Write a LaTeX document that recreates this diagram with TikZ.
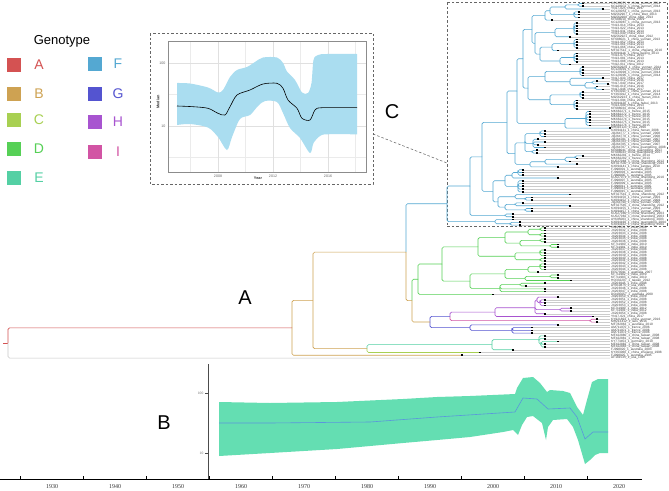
\documentclass[tikz,border=0pt]{standalone}
\usepackage{fontspec}
\setmainfont{Liberation Sans}
\newfontfamily\axfont{Liberation Serif}
\definecolor{cA}{RGB}{212,82,82}
\definecolor{cB}{RGB}{206,162,82}
\definecolor{cC}{RGB}{168,208,82}
\definecolor{cD}{RGB}{86,208,86}
\definecolor{cE}{RGB}{84,208,164}
\definecolor{cF}{RGB}{84,168,210}
\definecolor{cG}{RGB}{84,84,208}
\definecolor{cH}{RGB}{168,84,208}
\definecolor{cI}{RGB}{210,84,164}
\definecolor{ribF}{RGB}{170,221,240}
\definecolor{ribB}{RGB}{100,222,178}
\definecolor{medB}{RGB}{90,150,220}
\newcommand\trnode[5]{\coordinate (#1) at (#2,#3);\foreach \cc in {#4}{\draw[brn=#5] (#1) |- (\cc);}}
\def\leafdata{0/583/KC129071\_1\_china\_yunnan\_2014,1/583/KC129072\_1\_china\_yunnan\_2014,2/603/YN17-025\_china\_2017,3/579/KC129053\_1\_china\_yunnan\_2013,4/579/MG562907\_1\_china\_tibet\_2013,5/579/MG562908\_china\_tibet\_2013,6/552/KF688010\_china\_2009,7/577/KC129087\_1\_china\_yunnan\_2013,8/577/YN13-014\_china\_2013,9/577/YN13-022\_china\_2013,10/577/YN13-031\_china\_2013,11/577/YN13-040\_china\_2013,12/570/MG562921\_china\_tibet\_2012,13/577/KF688021\_1\_china\_yunnan\_2013,14/577/YN13-052\_china\_2013,15/577/YN13-061\_china\_2013,16/577/YN13-066\_china\_2013,17/558/MF327512\_1\_china\_zhejiang\_2010,18/577/KX094116\_1\_china\_beijing\_2013,19/577/YN13-075\_china\_2013,20/577/YN13-081\_china\_2013,21/577/YN13-088\_china\_2013,22/570/YN12-011\_china\_2012,23/583/MG562929\_1\_china\_yunnan\_2014,24/583/KC129091\_1\_china\_yunnan\_2014,25/583/KC129093\_1\_china\_yunnan\_2014,26/583/KC129095\_1\_china\_yunnan\_2014,27/603/YN17-033\_china\_2017,28/597/YN16-012\_china\_2016,29/608/YN17-040\_china\_2017,30/597/YN16-019\_china\_2016,31/603/YN17-046\_china\_2017,32/583/KY363011\_1\_china\_yunnan\_2014,33/583/KY363012\_1\_china\_yunnan\_2014,34/583/MG562933\_1\_china\_hunan\_2014,35/577/YN13-094\_china\_2013,36/577/KX094120\_1\_china\_hubei\_2013,37/577/YN13-099\_china\_2013,38/577/KF688034\_china\_2013,39/590/MK662271\_1\_france\_2015,40/590/MK662272\_1\_france\_2015,41/590/MK662273\_1\_france\_2015,42/590/MK662274\_1\_france\_2015,43/590/MK662275\_1\_france\_2015,44/590/MK662276\_1\_france\_2015,45/610/MH316121\_1\_usa\_2016,46/545/KX094131\_1\_china\_henan\_2008,47/545/JQ264777\_1\_china\_yunnan\_2008,48/545/JQ264779\_1\_china\_yunnan\_2008,49/538/JQ264781\_1\_china\_yunnan\_2007,50/545/JQ264783\_1\_china\_yunnan\_2008,51/538/JQ264785\_1\_china\_yunnan\_2007,52/545/JQ264787\_1\_china\_guangdong\_2008,53/537/KF688041\_china\_guangdong\_2007,54/537/KF688043\_china\_guangdong\_2007,55/583/MK662281\_1\_france\_2014,56/577/MK662282\_1\_france\_2013,57/570/KU527068\_1\_china\_shandong\_2012,58/577/MF327530\_1\_china\_shandong\_2013,59/558/KX094141\_1\_china\_jiangsu\_2010,60/523/FJ998001\_1\_australia\_2005,61/523/FJ998003\_1\_australia\_2005,62/523/FJ998005\_1\_australia\_2005,63/558/KU527071\_1\_china\_shandong\_2010,64/523/FJ998007\_1\_australia\_2005,65/523/FJ998009\_1\_australia\_2005,66/523/FJ998011\_1\_australia\_2005,67/523/FJ998013\_1\_australia\_2005,68/523/FJ998015\_1\_australia\_2005,69/570/MF327541\_1\_china\_shandong\_2012,70/532/KX094150\_1\_china\_yunnan\_2006,71/532/KX094152\_1\_china\_yunnan\_2006,72/523/JQ264790\_1\_china\_yunnan\_2005,73/570/MF327545\_1\_china\_shandong\_2012,74/532/KX094155\_1\_china\_yunnan\_2006,75/532/KX094157\_1\_china\_yunnan\_2006,76/513/KU527080\_1\_china\_shandong\_2003,77/513/KU527082\_1\_china\_shandong\_2003,78/513/AY695083\_1\_china\_shandong\_2003,79/520/KX094160\_1\_china\_guangdong\_2004,80/520/KX094162\_1\_china\_shandong\_2004,81/545/JX203031\_1\_india\_2008,82/545/JX203032\_1\_india\_2008,83/545/JX203033\_1\_india\_2008,84/545/JX203034\_1\_india\_2008,85/545/JX203035\_1\_india\_2008,86/545/JX203036\_1\_india\_2008,87/558/KF711980\_1\_india\_2010,88/558/KF711981\_1\_india\_2010,89/545/JX203037\_1\_india\_2008,90/545/JX203038\_1\_india\_2008,91/545/JX203039\_1\_india\_2008,92/545/JX203040\_1\_india\_2008,93/545/JX203041\_1\_india\_2008,94/545/JX203042\_1\_india\_2008,95/545/JX203043\_1\_india\_2008,96/545/JX203044\_1\_india\_2008,97/538/EF573591\_1\_australia\_2007,98/558/KF711982\_1\_india\_2010,99/558/KF711983\_1\_india\_2010,100/571/HQ332207\_1\_taiwan\_2012,101/545/JX203045\_1\_india\_2008,102/526/AY910875\_1\_usa\_2005,103/545/JX203046\_1\_india\_2008,104/545/JX203047\_1\_india\_2008,105/493/DQ435657\_1\_australia\_2000,106/558/JX203050\_1\_india\_2010,107/545/JX203051\_1\_india\_2008,108/545/JX203052\_1\_india\_2008,109/545/JX203053\_1\_india\_2008,110/571/KF711990\_1\_india\_2012,111/571/KF711991\_1\_india\_2012,112/545/JX203054\_1\_india\_2008,113/593/YN17-021\_china\_2017,114/597/KY921693\_1\_china\_yunnan\_2016,115/597/MH213412\_1\_laos\_2016,116/558/MF782863\_1\_australia\_2010,117/532/AM711970\_1\_france\_2006,118/532/AM711971\_1\_france\_2006,119/532/AM711972\_1\_france\_2006,120/545/MF422880\_1\_china\_taiwan\_2008,121/545/MF422881\_1\_china\_taiwan\_2008,122/558/KY773453\_1\_germany\_2010,123/545/MF422882\_1\_china\_taiwan\_2008,124/545/MF422883\_1\_china\_taiwan\_2008,125/513/FJ998020\_1\_australia\_2003,126/480/KY363060\_1\_china\_zhejiang\_1998,127/462/FJ998025\_1\_australia\_1995}
\begin{document}
\begin{tikzpicture}[x=1pt,y=-1pt,
  brn/.style={draw=#1, line width=0.6pt, rounded corners=1.5pt},
  tipl/.style={draw=black!20, line width=0.35pt},
  leaflab/.style={anchor=west, inner sep=0pt, font=\fontsize{3.2}{3.3}\selectfont, text=black!75},
  tipdot/.style={fill=black, rectangle, inner sep=0pt, minimum size=1.7pt},
  biglab/.style={font=\fontsize{20}{20}\selectfont, text=black},
  glab/.style={font=\fontsize{14}{14}\selectfont},
  tiny/.style={font=\fontsize{3.6}{4}\selectfont, text=black!60, inner sep=0.5pt},
  dbox/.style={draw=black!60, dashed, dash pattern=on 2.5pt off 2pt, line width=0.55pt},
  grd/.style={draw=black!8, line width=0.4pt}]
\useasboundingbox (0,0) rectangle (669,490);
\fill[white] (0,0) rectangle (669,490);

% ---------------- legend
\node[font=\fontsize{13}{13}\selectfont] (gtitle) at (62,41) {Genotype};
\foreach \gl/\gy/\gc in {A/65/cA,B/94/cB,C/120/cC,D/149/cD,E/178/cE}{
  \fill[\gc] (7,\gy-7) rectangle (21,\gy+7);
  \node[glab,text=\gc] at (39,\gy) {\gl};}
\foreach \gl/\gy/\gc in {F/64/cF,G/94/cG,H/122/cH,I/152/cI}{
  \fill[\gc] (88,\gy-7) rectangle (102,\gy+7);
  \node[glab,text=\gc] at (118,\gy) {\gl};}

% ---------------- inset plot (C)
\draw[dbox] (150,33) rectangle (373,184);
\foreach \gy in {94.5,157.5}{\draw[grd] (168,\gy) -- (366,\gy);}
\foreach \gx in {190.5,245.5,300.5,355.5}{\draw[grd] (\gx,41) -- (\gx,172);}
\foreach \gy in {63,126}{\draw[draw=black!12,line width=0.5pt] (168,\gy) -- (366,\gy);}
\foreach \gx in {218,273,328}{\draw[draw=black!12,line width=0.5pt] (\gx,41) -- (\gx,172);}
\fill[ribF] plot[smooth,tension=0.5] coordinates {(177,83) (190,83.5) (208,87.5) (218,92.5) (223,90) (230,77) (237,70) (247,67) (255,62) (263,57.5) (277,57.5) (283,63) (287,71.5) (295,80) (302,92.5) (308,93) (311.5,83) (313.5,60) (318,55) (327,54) (357,54)}
  -- plot[smooth,tension=0.5] coordinates {(357,134.3) (327,134.3) (320,136) (313.5,143) (310,153) (300,138) (290,128) (283,113) (277,102) (265,101) (258,106) (250,115) (240,119) (232,137) (227,150) (218,137) (208,127.5) (190,124) (177,125)} -- cycle;
\draw[black, line width=0.6pt] plot[smooth,tension=0.5] coordinates {(177,106) (193,106.7) (208,108.3) (218,113.3) (225,115) (230,106.7) (237,95) (250,90) (263,84) (277,83.3) (283,88.3) (288,100) (297,108.3) (302,118.3) (310,120) (315,110) (322,107.7) (357,107.7)};
\draw[black!45, line width=0.5pt] (168,41) rectangle (366,172);
\node[tiny,anchor=east] at (166,63) {100};
\node[tiny,anchor=east] at (166,126) {10};
\foreach \gx/\gt in {218/2008,273/2012,328/2016}{\node[tiny] at (\gx,176) {\gt};}
\node[tiny,font=\fontsize{3.8}{4}\selectfont\bfseries,text=black!80] at (258,178.5) {Year};
\node[tiny,font=\fontsize{3.8}{4}\selectfont\bfseries,text=black!80,rotate=90] at (158,102) {Median};
\node[biglab] (labC) at (392,112) {C};
\coordinate (insetR) at (373,134);
\coordinate (boxL) at (447,163);
\draw[dbox] (insetR) -- (boxL);

% ---------------- tree
\draw[dbox] (447,2) rectangle (667,226.6);
\begin{scope}[shift={(0,3.5)}, y=-2.77pt]
\foreach \ii/\tp/\lab in \leafdata {
  \coordinate (l\ii) at (\tp,\ii);
  \draw[tipl] (\tp,\ii) -- (610,\ii);
  \node[leaflab] at (611,\ii) {\lab};}
\coordinate (l128) at (610,128);
\node[leaflab] at (611,128) {AF181535\_1\_usa\_1997};
% genotype F
\trnode{fa1}{578}{0.5}{l0,l1}{cF}
\trnode{fa2}{565}{1.25}{fa1,l2}{cF}
\trnode{fa3}{574}{4}{l3,l4,l5}{cF}
\trnode{fa4}{550}{2.625}{fa2,fa3}{cF}
\trnode{fa5}{545}{4.31}{fa4,l6}{cF}
\trnode{fb1}{574}{9}{l7,l8,l9,l10,l11}{cF}
\trnode{fb2}{555}{10.5}{fb1,l12}{cF}
\trnode{fc1}{574}{14.5}{l13,l14,l15,l16}{cF}
\trnode{fc2}{552}{15.75}{fc1,l17}{cF}
\trnode{fd1}{574}{19.5}{l18,l19,l20,l21}{cF}
\trnode{fd2}{560}{20.75}{fd1,l22}{cF}
\trnode{fcd}{540}{18.25}{fc2,fd2}{cF}
\trnode{fbcd}{535}{14.375}{fb2,fcd}{cF}
\trnode{fTa}{532}{9.34}{fa5,fbcd}{cF}
\trnode{fe1}{580}{24.5}{l23,l24,l25,l26}{cF}
\trnode{ff1}{592}{28.5}{l28,l29}{cF}
\trnode{ff2}{595}{30.5}{l30,l31}{cF}
\trnode{ff3}{585}{29.5}{ff1,ff2}{cF}
\trnode{ff4}{570}{28.25}{l27,ff3}{cF}
\trnode{fef}{545}{26.375}{fe1,ff4}{cF}
\trnode{fg1}{580}{33}{l32,l33,l34}{cF}
\trnode{fg2}{574}{36.5}{l35,l36,l37,l38}{cF}
\trnode{fg3}{550}{34.75}{fg1,fg2}{cF}
\trnode{fefg}{528}{30.56}{fef,fg3}{cF}
\trnode{fTb}{523}{19.95}{fTa,fefg}{cF}
\trnode{fh1}{586}{41.5}{l39,l40,l41,l42,l43,l44}{cF}
\trnode{fh2}{565}{43.25}{fh1,l45}{cF}
\trnode{fTc}{517}{31.6}{fTb,fh2}{cF}
\trnode{fi1}{540}{47}{l46,l47,l48}{cF}
\trnode{fi2}{533}{50.5}{l49,l50,l51,l52}{cF}
\trnode{fi3}{532}{53.5}{l53,l54}{cF}
\trnode{fi4}{525}{50.33}{fi1,fi2,fi3}{cF}
\trnode{fj1}{575}{55.5}{l55,l56}{cF}
\trnode{fj2}{565}{56.25}{fj1,l57}{cF}
\trnode{fj3}{545}{57.13}{fj2,l58}{cF}
\trnode{fj4}{530}{58.06}{fj3,l59}{cF}
\trnode{fij}{515}{54.2}{fi4,fj4}{cF}
\trnode{fU}{507}{42.9}{fTc,fij}{cF}
\trnode{fk1}{518}{61}{l60,l61,l62}{cF}
\trnode{fk3}{512}{62}{fk1,l63}{cF}
\trnode{fk2}{518}{66}{l64,l65,l66,l67,l68}{cF}
\trnode{fk4}{505}{64}{fk3,fk2}{cF}
\trnode{fl1}{525}{70.5}{l70,l71}{cF}
\trnode{fl2}{515}{69.75}{l69,fl1}{cF}
\trnode{fl4}{515}{72.5}{l72,l73}{cF}
\trnode{fl3}{525}{74.5}{l74,l75}{cF}
\trnode{fl5}{505}{73.5}{fl4,fl3}{cF}
\trnode{fl6}{498}{71.6}{fl2,fl5}{cF}
\trnode{fkl}{493}{67.8}{fk4,fl6}{cF}
\trnode{fA}{482}{55.35}{fU,fkl}{cF}
\trnode{fm}{505}{76.5}{l76,l77}{cF}
\trnode{fAb}{470}{65.9}{fA,fm}{cF}
\trnode{fn1}{510}{79.5}{l79,l80}{cF}
\trnode{fn2}{495}{78.75}{l78,fn1}{cF}
\trnode{fR}{447}{72.3}{fAb,fn2}{cF}
% genotype D
\trnode{d1}{540}{81.5}{l81,l82}{cD}
\trnode{d2}{540}{83.5}{l83,l84}{cD}
\trnode{d3}{528}{82.5}{d1,d2}{cD}
\trnode{d4}{540}{85.5}{l85,l86}{cD}
\trnode{d5}{550}{87.5}{l87,l88}{cD}
\trnode{d6}{520}{86.5}{d4,d5}{cD}
\trnode{d7}{505}{84.5}{d3,d6}{cD}
\trnode{d8}{540}{90}{l89,l90,l91}{cD}
\trnode{d9}{540}{92.5}{l92,l93}{cD}
\trnode{d10}{515}{91.25}{d8,d9}{cD}
\trnode{d11}{478}{87.88}{d7,d10}{cD}
\trnode{d12}{540}{95}{l94,l95,l96}{cD}
\trnode{d13}{528}{96}{d12,l97}{cD}
\trnode{d15}{550}{98.5}{l98,l99}{cD}
\trnode{d16}{525}{99.25}{d15,l100}{cD}
\trnode{d17}{505}{97.63}{d13,d16}{cD}
\trnode{d18}{520}{101.5}{l101,l102}{cD}
\trnode{d19}{500}{102.83}{d18,l103,l104}{cD}
\trnode{d20}{470}{100.23}{d17,d19}{cD}
\trnode{d21}{442}{94.05}{d11,d20}{cD}
\trnode{dR}{418}{99.53}{d21,l105}{cD}
% genotypes H, I, G
\trnode{h1}{540}{108}{l107,l108,l109}{cH}
\trnode{h2}{537}{107}{l106,h1}{cH}
\trnode{h3}{560}{110.5}{l110,l111}{cH}
\trnode{h4}{535}{109.83}{h2,h3,l112}{cH}
\trnode{h5}{495}{111.42}{h4,l113}{cH}
\trnode{i1}{590}{114.5}{l114,l115}{cI}
\coordinate (hi) at (450,112.96);
\draw[brn=cH] (hi) |- (h5);
\draw[brn=cI] (hi) |- (i1);
\trnode{g1}{512}{118}{l117,l118,l119}{cG}
\trnode{gR}{470}{117}{l116,g1}{cG}
\coordinate (gh) at (430,114.98);
\draw[brn=cG] (gh) |- (hi);
\draw[brn=cG] (gh) |- (gR);
\coordinate (N4) at (412,107.25);
\draw[brn=cD] (N4) |- (dR);
\draw[brn=cB] (N4) |- (gh);
\coordinate (N3) at (406,89.78);
\draw[brn=cF] (N3) |- (fR);
\draw[brn=cB] (N3) |- (N4);
% genotype E, C and basal part
\trnode{e3}{541}{123}{l122,l123,l124}{cE}
\trnode{e1}{539}{121.33}{l120,l121,e3}{cE}
\trnode{eR}{492}{123.17}{e1,l125}{cE}
\coordinate (nE) at (367,124.58);
\draw[brn=cE] (nE) |- (eR);
\draw[brn=cC] (nE) |- (l126);
\coordinate (N2) at (313,107.18);
\draw[brn=cB] (N2) |- (N3);
\draw[brn=cB] (N2) |- (nE);
\coordinate (N1) at (292,117.09);
\draw[brn=cB] (N1) |- (N2);
\draw[brn=cB] (N1) |- (l127);
\coordinate (rt) at (8,122.55);
\coordinate (rt0) at (3,122.55);
\draw[brn=cA] (rt0) -- (rt);
\draw[brn=cA] (rt) |- (N1);
\draw[brn=black!22] (rt) |- (l128);
\foreach \ii/\tp/\lab in \leafdata {\node[tipdot] at (l\ii) {};}
\end{scope}
\node[biglab] (labA) at (245,298) {A};

% ---------------- panel B
\draw[black!70, line width=0.6pt] (208,364) -- (208,479);
\draw[black!70] (205,393) -- (208,393) (205,453) -- (208,453);
\node[tiny,anchor=east,font=\axfont\fontsize{3.6}{4}\selectfont] at (204,393) {100};
\node[tiny,anchor=east,font=\axfont\fontsize{3.6}{4}\selectfont] at (204,453) {10};
\fill[ribB] (219,402) -- (270,403) -- (337,402) -- (403,399) -- (437,397) -- (470,396) -- (515,394) -- (517,388) -- (523,378) -- (533,377) -- (540,383) -- (547,392) -- (550,390) -- (563,391) -- (570,393) -- (577,407) -- (583,415) -- (587,400) -- (592,382) -- (598,379) -- (608,379)
  -- (608,453) -- (600,453) -- (595,455) -- (590,460) -- (585,464) -- (578,440) -- (573,427) -- (567,419) -- (553,420) -- (548,427) -- (546,440) -- (542,423) -- (533,416) -- (527,417) -- (522,425) -- (518,435) -- (513,430) -- (503,432) -- (470,437) -- (437,440) -- (403,443) -- (337,449) -- (270,453) -- (219,456) -- cycle;
\draw[medB, line width=0.6pt] (219,423) -- (270,423) -- (370,422) -- (437,417) -- (515,412) -- (523,398) -- (537,399) -- (548,409) -- (570,408) -- (577,417) -- (585,439) -- (593,432) -- (608,432);
\node[biglab] (labB) at (164,423) {B};

% ---------------- time axis
\draw[black, line width=0.9pt] (0,479) -- (642,479);
\foreach \k in {0,...,9}{
  \draw[black, line width=0.6pt] (20.5+63*\k,479) -- (20.5+63*\k,475.5);
  \pgfmathtruncatemacro{\yr}{1930+10*\k}
  \node[font=\axfont\fontsize{6}{6}\selectfont, text=black!80, inner sep=0pt] at (52+63*\k,487) {\yr};}
\end{tikzpicture}
\end{document}
